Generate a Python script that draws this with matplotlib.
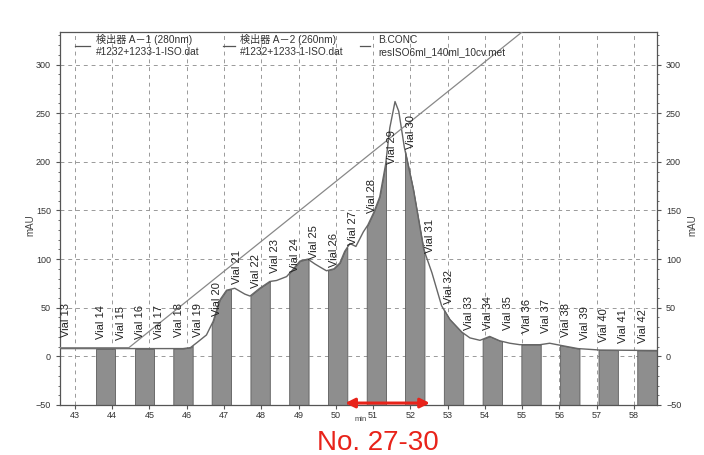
import numpy as np
import matplotlib
matplotlib.use("Agg")
import matplotlib.pyplot as plt
from matplotlib.ticker import MultipleLocator

# UV 280nm trace (min, mAU)
uv_t = [42.60, 45.90, 46.10, 46.27, 46.53, 46.71, 46.89, 47.07, 47.29, 47.56,
        47.70, 47.96, 48.23, 48.41, 48.68, 48.82, 49.04, 49.25, 49.44, 49.57,
        49.75, 49.95, 50.11, 50.24, 50.38, 50.54, 50.74, 50.86, 51.02, 51.18,
        51.34, 51.45, 51.59, 51.69, 51.84, 52.08, 52.36, 52.58, 52.84, 53.06,
        53.38, 53.60, 53.87, 54.13, 54.40, 54.67, 54.94, 55.48, 55.74, 56.01,
        56.50, 57.09, 58.62]
uv_v = [8, 8, 9, 14, 22, 36, 58, 68, 70, 64,
        62, 70, 77, 78, 82, 88, 98, 100, 95, 92,
        88, 90, 96, 108, 116, 113, 128, 135, 148, 164,
        198, 235, 262, 252, 215, 172, 110, 86, 52, 38,
        25, 19, 16.5, 20.5, 16, 13.5, 12, 12, 13.5, 11.5,
        8, 6.5, 6]

# B.CONC gradient line
conc_t = [42.60, 44.45, 55.60]
conc_v = [9, 9, 352]

# fractions
vials = list(range(13, 43))
vial_start = [42.60, 43.56, 44.08, 44.60, 45.12, 45.64, 46.16, 46.67, 47.19, 47.71,
              48.23, 48.75, 49.27, 49.79, 50.31, 50.83, 51.35, 51.86, 52.38, 52.90,
              53.42, 53.94, 54.46, 54.98, 55.50, 56.02, 56.54, 57.05, 57.57, 58.09]
vial_end = 58.62
label_base = [20, 18, 17, 18, 18, 20, 20, 42, 74, 70,
              86, 87, 100, 92, 115, 147, 198, 213, 106, 54,
              27, 27, 27, 24, 24, 20, 17, 15, 14, 14]

legend_lines = [("検出器 A－1 (280nm)", "#1232+1233-1-ISO.dat"),
                ("検出器 A－2 (260nm)", "#1232+1233-1-ISO.dat"),
                ("B.CONC", "resISO6ml_140ml_10cv.met")]

fam = ["Liberation Sans", "Noto Sans CJK JP", "DejaVu Sans"]
plt.rcParams['font.family'] = fam

fig = plt.figure(figsize=(7.04, 4.55), dpi=100)
ax = fig.add_axes([60 / 704, 50 / 455, 597 / 704, 373 / 455])
ax.set_xlim(42.6, 58.62)
ax.set_ylim(-50, 333.5)

ax.set_xticks(range(43, 59))
ax.set_yticks(range(-50, 301, 50))
ax.yaxis.set_minor_locator(MultipleLocator(10))
ax.tick_params(which='both', direction='out', colors='#555', labelsize=6.5,
               right=True, labelright=True, labelcolor='#333')
ax.tick_params(which='major', length=3)
ax.tick_params(which='minor', length=1.5)
ax.tick_params(axis='x', pad=1.5)
ax.grid(True, which='major', linestyle=(0, (4, 4)), color='#999', lw=0.7)
ax.set_axisbelow(True)
for s in ax.spines.values():
    s.set_color('#555')
    s.set_linewidth(0.9)

# gray fractions (even vials)
edges = vial_start + [vial_end]
for i, v in enumerate(vials):
    a, b = edges[i], edges[i + 1]
    if v % 2 == 0:
        tt = np.linspace(a, b, 40)
        yy = np.interp(tt, uv_t, uv_v)
        ax.fill_between(tt, -50, yy, facecolor='#8e8e8e', edgecolor='#5c5c5c', lw=0.6, zorder=2)
    ax.text(a + 0.15, label_base[i], f"Vial {v}", rotation=90, ha='center', va='bottom',
            fontsize=8, color='#222', zorder=4)

ax.plot(uv_t, uv_v, color='#666', lw=1.0, zorder=3)
ax.plot(conc_t, conc_v, color='#888', lw=0.9, zorder=3)

# legend drawn by hand, as on the printout
sym_x = [(0.025, 0.05), (0.273, 0.293), (0.5025, 0.52)]
txt_x = [0.0603, 0.3015, 0.5327]
for (x0, x1), tx, (l1, l2) in zip(sym_x, txt_x, legend_lines):
    ax.plot([x0, x1], [0.962, 0.962], transform=ax.transAxes, color='#555', lw=0.9, zorder=5)
    ax.text(tx, 0.979, l1, transform=ax.transAxes, fontsize=7.3, va='center', color='#333')
    ax.text(tx, 0.946, l2, transform=ax.transAxes, fontsize=7.3, va='center', color='#333')

ax.text(0.503, -0.039, "min", transform=ax.transAxes, fontsize=5.5, ha='center', va='center', color='#444')
fig.text(30 / 704, 1 - 225 / 455, "mAU", rotation=90, fontsize=7, ha='center', va='center', color='#444')
fig.text(692 / 704, 1 - 225 / 455, "mAU", rotation=90, fontsize=7, ha='center', va='center', color='#444')

# red annotation for the pooled fractions
ax.annotate('', xy=(50.18, -48), xytext=(52.6, -48),
            arrowprops=dict(arrowstyle='<|-|>', color='#e8231a', lw=2.2, mutation_scale=14),
            annotation_clip=False, zorder=6)
fig.text(378 / 704, 1 - 450 / 455, "No. 27-30", color='#e8231a', fontsize=20, ha='center', va='baseline')

fig.savefig("out.png", dpi=100)
